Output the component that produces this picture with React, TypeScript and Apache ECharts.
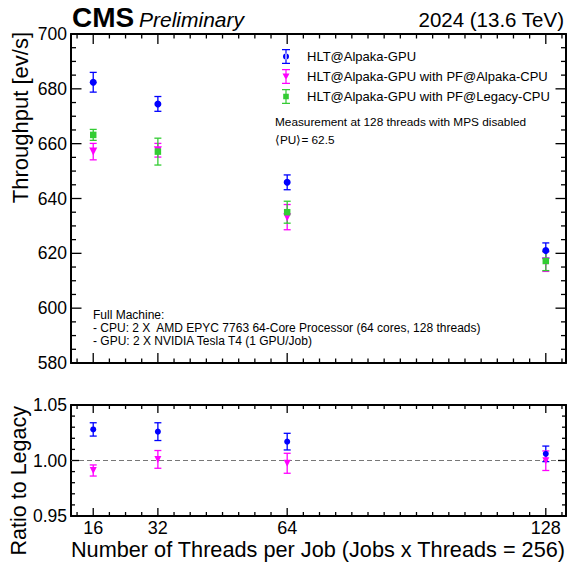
import React, { useEffect, useRef } from "react";
import * as echarts from "echarts";

// ---- data ----
const THREADS = [16, 32, 64, 128];

const SERIES_NAMES = [
  "HLT@Alpaka-GPU",
  "HLT@Alpaka-GPU with PF@Alpaka-CPU",
  "HLT@Alpaka-GPU with PF@Legacy-CPU",
];

// throughput [ev/s]
const BLUE_TP = [682.4, 674.5, 645.9, 621.0];
const BLUE_TP_ERR = [3.6, 2.7, 2.7, 2.8];
const MAGENTA_TP = [657.1, 657.6, 633.2, 617.0];
const MAGENTA_TP_ERR = [3.0, 2.5, 4.6, 3.6];
const GREEN_TP = [663.2, 657.1, 635.0, 617.2];
const GREEN_TP_ERR = [2.0, 4.9, 4.0, 3.5];

// ratio to legacy
const BLUE_RATIO = [1.028, 1.026, 1.017, 1.006];
const BLUE_RATIO_ERR = [0.006, 0.008, 0.0075, 0.007];
const MAGENTA_RATIO = [0.991, 1.001, 0.9975, 0.9998];
const MAGENTA_RATIO_ERR = [0.005, 0.008, 0.009, 0.0088];

// ---- axis ticks ----
const X_MIN = 10.5;
const X_MAX = 133;
const X_MAJOR_TICKS = [16, 32, 64, 128];
const X_MINOR_TICKS = [12, 20, 24, 28, 36, 40, 44, 48, 52, 56, 60, 68, 72, 76, 80, 84, 88, 92, 96, 100, 104, 108, 112, 116, 120, 124, 132];
const TP_MIN = 580;
const TP_MAX = 700;
const TP_MAJOR_TICKS = [580, 600, 620, 640, 660, 680, 700];
const TP_MINOR_TICKS = [585, 590, 595, 605, 610, 615, 625, 630, 635, 645, 650, 655, 665, 670, 675, 685, 690, 695];
const R_MIN = 0.95;
const R_MAX = 1.05;
const R_MAJOR_TICKS = [0.95, 1.0, 1.05];
const R_MINOR_TICKS = [0.96, 0.97, 0.98, 0.99, 1.01, 1.02, 1.03, 1.04];

const COLORS = ["#0000ff", "#ff00ff", "#33cc33"];
const FONT = "'Liberation Sans', Arial, Helvetica, sans-serif";

function pts(vals: number[]) {
  return THREADS.map((t, i) => [t, vals[i]]);
}
function errs(vals: number[], e: number[]) {
  return THREADS.map((t, i) => [t, vals[i] - e[i], vals[i] + e[i]]);
}

function errRenderer(color: string) {
  return (params: any, api: any) => {
    const x = api.value(0);
    const lo = api.value(1);
    const hi = api.value(2);
    const top = api.coord([x, hi]);
    const bot = api.coord([x, lo]);
    const w = 3.5;
    const style = { stroke: color, lineWidth: 1.3 };
    return {
      type: "group",
      children: [
        { type: "line", shape: { x1: top[0], y1: top[1], x2: bot[0], y2: bot[1] }, style },
        { type: "line", shape: { x1: top[0] - w, y1: top[1], x2: top[0] + w, y2: top[1] }, style },
        { type: "line", shape: { x1: bot[0] - w, y1: bot[1], x2: bot[0] + w, y2: bot[1] }, style },
      ],
    };
  };
}

// Tick rows: [x, y, side, length]; each row sits inside the panel, and the
// renderer projects it onto the frame side (0 bottom, 1 top, 2 left, 3 right).
function tickRows(yMin: number, yMax: number, yMajor: number[], yMinor: number[], xLen: number[], yLen: number[]) {
  const yMid = (yMin + yMax) / 2;
  const xMid = (X_MIN + X_MAX) / 2;
  const rows: number[][] = [];
  X_MAJOR_TICKS.forEach((v) => { rows.push([v, yMid, 0, xLen[0]]); rows.push([v, yMid, 1, xLen[0]]); });
  X_MINOR_TICKS.forEach((v) => { rows.push([v, yMid, 0, xLen[1]]); rows.push([v, yMid, 1, xLen[1]]); });
  yMajor.forEach((v) => { rows.push([xMid, v, 2, yLen[0]]); rows.push([xMid, v, 3, yLen[0]]); });
  yMinor.forEach((v) => { rows.push([xMid, v, 2, yLen[1]]); rows.push([xMid, v, 3, yLen[1]]); });
  return rows;
}

function tickRenderer(yMin: number, yMax: number) {
  return (params: any, api: any) => {
    const side = api.value(2);
    const len = api.value(3);
    let x1: number, y1: number, x2: number, y2: number;
    if (side === 0) {
      const p = api.coord([api.value(0), yMin]);
      x1 = p[0]; x2 = p[0]; y1 = p[1] - 1; y2 = p[1] - len;
    } else if (side === 1) {
      const p = api.coord([api.value(0), yMax]);
      x1 = p[0]; x2 = p[0]; y1 = p[1] + 1; y2 = p[1] + len;
    } else if (side === 2) {
      const p = api.coord([X_MIN, api.value(1)]);
      y1 = p[1]; y2 = p[1]; x1 = p[0] + 1; x2 = p[0] + len;
    } else {
      const p = api.coord([X_MAX, api.value(1)]);
      y1 = p[1]; y2 = p[1]; x1 = p[0] - 1; x2 = p[0] - len;
    }
    return {
      type: "group",
      children: [{ type: "line", shape: { x1, y1, x2, y2 }, style: { stroke: "#000", lineWidth: 1.3 } }],
    };
  };
}

function xAx(gridIndex: number, position: string, showLabel: boolean) {
  return {
    type: "value",
    gridIndex,
    position,
    min: X_MIN,
    max: X_MAX,
    axisLine: { show: true, onZero: false, lineStyle: { color: "#000", width: 2 } },
    axisTick: { show: false },
    axisLabel: {
      show: showLabel,
      customValues: X_MAJOR_TICKS,
      fontSize: 18,
      color: "#000",
      margin: 3,
      fontFamily: FONT,
    },
    splitLine: { show: false },
  };
}

function yAx(gridIndex: number, position: string, min: number, max: number, labels: number[] | null, digits: number) {
  return {
    type: "value",
    gridIndex,
    position,
    min,
    max,
    axisLine: { show: true, onZero: false, lineStyle: { color: "#000", width: 2 } },
    axisTick: { show: false },
    axisLabel: {
      show: !!labels,
      customValues: labels || [],
      fontSize: 17.5,
      color: "#000",
      margin: 4,
      fontFamily: FONT,
      formatter: (v: number) => v.toFixed(digits),
    },
    splitLine: { show: false },
  };
}

const ICON_CIRCLE = "path://M0,0H8V1.2H0Z M0,13.8H8V15H0Z M3.4,0H4.6V15H3.4Z M1,7.5A3,3 0 1 0 7,7.5A3,3 0 1 0 1,7.5Z";
const ICON_TRI = "path://M0,0H8V1.2H0Z M0,13.8H8V15H0Z M3.4,0H4.6V15H3.4Z M0.5,4.5H7.5L4,11Z";
const ICON_SQ = "path://M0,0H8V1.2H0Z M0,13.8H8V15H0Z M3.4,0H4.6V15H3.4Z M1.2,4.7H6.8V10.3H1.2Z";

const TEXTS: any[] = [
  { type: "text", x: 72, y: 17, style: { text: "CMS", font: `bold 28px ${FONT}`, fill: "#000", verticalAlign: "middle" } },
  { type: "text", x: 139, y: 19.5, style: { text: "Preliminary", font: `italic 21px ${FONT}`, fill: "#000", verticalAlign: "middle" } },
  { type: "text", x: 564, y: 19.5, style: { text: "2024 (13.6 TeV)", font: `20.5px ${FONT}`, fill: "#000", align: "right", verticalAlign: "middle" } },
  { type: "text", x: 20, y: 32, rotation: Math.PI / 2, style: { text: "Throughput [ev/s]", font: `22px ${FONT}`, fill: "#000", align: "right", verticalAlign: "middle" } },
  { type: "text", x: 19, y: 406, rotation: Math.PI / 2, style: { text: "Ratio to Legacy", font: `21.5px ${FONT}`, fill: "#000", align: "right", verticalAlign: "middle" } },
  { type: "text", x: 565, y: 549, style: { text: "Number of Threads per Job (Jobs x Threads = 256)", font: `21.7px ${FONT}`, fill: "#000", align: "right", verticalAlign: "middle" } },
  { type: "text", x: 275, y: 122, style: { text: "Measurement at 128 threads with MPS disabled", font: `11.8px ${FONT}`, fill: "#000", verticalAlign: "middle" } },
  { type: "text", x: 275, y: 140, style: { text: "⟨PU⟩= 62.5", font: `11.8px ${FONT}`, fill: "#000", verticalAlign: "middle" } },
  { type: "text", x: 93, y: 315, style: { text: "Full Machine:", font: `12px ${FONT}`, fill: "#000", verticalAlign: "middle" } },
  { type: "text", x: 93, y: 328, style: { text: "- CPU: 2 X  AMD EPYC 7763 64-Core Processor (64 cores, 128 threads)", font: `12px ${FONT}`, fill: "#000", verticalAlign: "middle" } },
  { type: "text", x: 93, y: 341, style: { text: "- GPU: 2 X NVIDIA Tesla T4 (1 GPU/Job)", font: `12px ${FONT}`, fill: "#000", verticalAlign: "middle" } },
];

export default function App() {
  const ref = useRef<HTMLDivElement>(null);
  useEffect(() => {
    if (!ref.current) return;
    const chart = echarts.init(ref.current, null, { renderer: "svg" });
    const option: any = {
      animation: false,
      backgroundColor: "#fff",
      textStyle: { fontFamily: FONT },
      grid: [
        { left: 71, top: 34, width: 495, height: 329 },
        { left: 71, top: 405, width: 495, height: 111 },
      ],
      xAxis: [
        xAx(0, "bottom", false),
        xAx(0, "top", false),
        xAx(1, "bottom", true),
        xAx(1, "top", false),
      ],
      yAxis: [
        yAx(0, "left", TP_MIN, TP_MAX, TP_MAJOR_TICKS, 0),
        yAx(0, "right", TP_MIN, TP_MAX, null, 0),
        yAx(1, "left", R_MIN, R_MAX, R_MAJOR_TICKS, 2),
        yAx(1, "right", R_MIN, R_MAX, null, 2),
      ],
      legend: {
        orient: "vertical",
        left: 277,
        top: 44,
        itemWidth: 8,
        itemHeight: 15,
        itemGap: 5,
        selectedMode: false,
        textStyle: { fontSize: 13, color: "#000", fontFamily: FONT, padding: [0, 0, 0, 12] },
        data: [
          { name: SERIES_NAMES[0], icon: ICON_CIRCLE },
          { name: SERIES_NAMES[1], icon: ICON_TRI },
          { name: SERIES_NAMES[2], icon: ICON_SQ },
        ],
      },
      series: [
        // frame tick marks, projected onto the frame through the axes' scales
        { type: "custom", name: "frame-ticks-top", xAxisIndex: 0, yAxisIndex: 0, renderItem: tickRenderer(TP_MIN, TP_MAX), data: tickRows(TP_MIN, TP_MAX, TP_MAJOR_TICKS, TP_MINOR_TICKS, [10, 4.5], [10.5, 5]), encode: { x: 0, y: 1 }, silent: true, z: 6, itemStyle: { color: "#000" } },
        { type: "custom", name: "frame-ticks-ratio", xAxisIndex: 2, yAxisIndex: 2, renderItem: tickRenderer(R_MIN, R_MAX), data: tickRows(R_MIN, R_MAX, R_MAJOR_TICKS, R_MINOR_TICKS, [8, 4], [8, 4]), encode: { x: 0, y: 1 }, silent: true, z: 6, itemStyle: { color: "#000" } },
        // top panel error bars
        { type: "custom", name: SERIES_NAMES[0], xAxisIndex: 0, yAxisIndex: 0, renderItem: errRenderer(COLORS[0]), data: errs(BLUE_TP, BLUE_TP_ERR), encode: { x: 0, y: [1, 2] }, z: 2, itemStyle: { color: COLORS[0] } },
        { type: "custom", name: SERIES_NAMES[1], xAxisIndex: 0, yAxisIndex: 0, renderItem: errRenderer(COLORS[1]), data: errs(MAGENTA_TP, MAGENTA_TP_ERR), encode: { x: 0, y: [1, 2] }, z: 2, itemStyle: { color: COLORS[1] } },
        { type: "custom", name: SERIES_NAMES[2], xAxisIndex: 0, yAxisIndex: 0, renderItem: errRenderer(COLORS[2]), data: errs(GREEN_TP, GREEN_TP_ERR), encode: { x: 0, y: [1, 2] }, z: 2, itemStyle: { color: COLORS[2] } },
        // top panel markers
        { type: "scatter", name: SERIES_NAMES[0], xAxisIndex: 0, yAxisIndex: 0, symbol: "circle", symbolSize: 7, itemStyle: { color: COLORS[0], opacity: 1 }, data: pts(BLUE_TP), z: 3 },
        { type: "scatter", name: SERIES_NAMES[1], xAxisIndex: 0, yAxisIndex: 0, symbol: "triangle", symbolRotate: 180, symbolSize: 8, itemStyle: { color: COLORS[1], opacity: 1 }, data: pts(MAGENTA_TP), z: 3 },
        { type: "scatter", name: SERIES_NAMES[2], xAxisIndex: 0, yAxisIndex: 0, symbol: "rect", symbolSize: 6.5, itemStyle: { color: COLORS[2], opacity: 1 }, data: pts(GREEN_TP), z: 4 },
        // ratio panel
        { type: "custom", name: SERIES_NAMES[0], xAxisIndex: 2, yAxisIndex: 2, renderItem: errRenderer(COLORS[0]), data: errs(BLUE_RATIO, BLUE_RATIO_ERR), encode: { x: 0, y: [1, 2] }, z: 2, itemStyle: { color: COLORS[0] } },
        { type: "custom", name: SERIES_NAMES[1], xAxisIndex: 2, yAxisIndex: 2, renderItem: errRenderer(COLORS[1]), data: errs(MAGENTA_RATIO, MAGENTA_RATIO_ERR), encode: { x: 0, y: [1, 2] }, z: 2, itemStyle: { color: COLORS[1] } },
        {
          type: "scatter", name: SERIES_NAMES[0], xAxisIndex: 2, yAxisIndex: 2, symbol: "circle", symbolSize: 6, itemStyle: { color: COLORS[0], opacity: 1 }, data: pts(BLUE_RATIO), z: 3,
          markLine: {
            silent: true,
            symbol: ["none", "none"],
            label: { show: false },
            lineStyle: { type: [5, 3], color: "#777", width: 1 },
            data: [{ yAxis: 1 }],
            z: 1,
          },
        },
        { type: "scatter", name: SERIES_NAMES[1], xAxisIndex: 2, yAxisIndex: 2, symbol: "triangle", symbolRotate: 180, symbolSize: 7, itemStyle: { color: COLORS[1], opacity: 1 }, data: pts(MAGENTA_RATIO), z: 3 },
      ],
      graphic: TEXTS,
    };
    chart.setOption(option);
    return () => chart.dispose();
  }, []);
  return (
    <div
      ref={ref}
      style={{ position: "fixed", left: 0, top: 0, width: 567, height: 563, background: "#fff" }}
    />
  );
}
